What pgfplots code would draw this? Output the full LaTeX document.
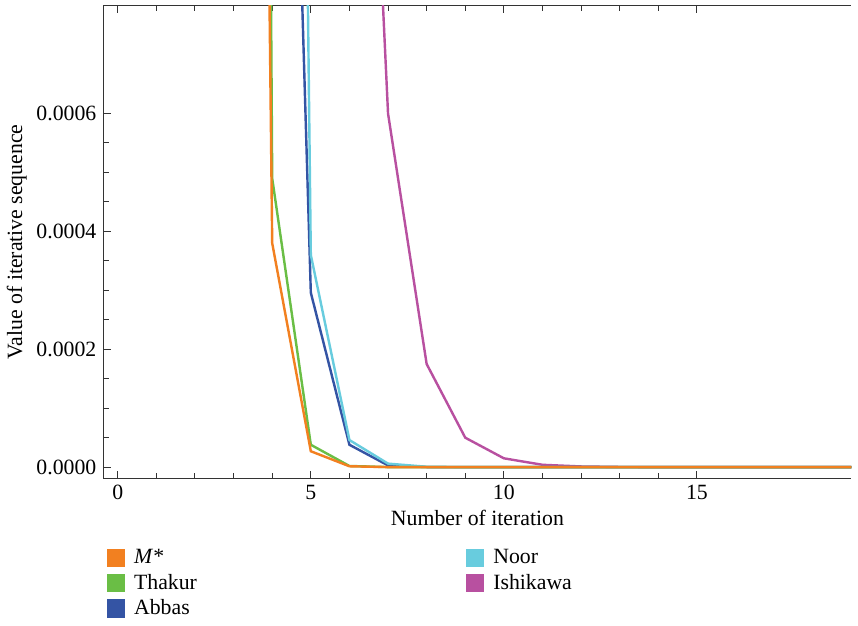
\documentclass[border=0pt]{standalone}
\usepackage{fontspec}
\setmainfont{Liberation Serif}
\usepackage{pgfplots}
\pgfplotsset{compat=1.18}

\definecolor{cMstar}{RGB}{242,128,32}
\definecolor{cThakur}{RGB}{106,190,69}
\definecolor{cAbbas}{RGB}{52,84,164}
\definecolor{cNoor}{RGB}{104,204,222}
\definecolor{cIshi}{RGB}{184,80,160}

\begin{document}
\begin{tikzpicture}
\begin{axis}[
    name=ax,
    scale only axis,
    width=371pt,
    height=234.5pt,
    xmin=-0.37, xmax=19,
    ymin=-0.000019, ymax=0.000783,
    axis x line*=box,
    axis y line*=left,
    axis line style={-, color=black!80, line width=0.6pt},
    every outer x axis line/.append style={-},
    every outer y axis line/.append style={-},
    xtick pos=both,
    ytick pos=left,
    tick align=inside,
    xtick={0,5,10,15},
    minor x tick num=4,
    ytick={0,0.0002,0.0004,0.0006},
    minor y tick num=3,
    major tick length=3.5pt,
    minor tick length=2.5pt,
    tick style={color=black!80, line width=0.5pt},
    scaled y ticks=false,
    yticklabel style={/pgf/number format/.cd, fixed, fixed zerofill, precision=4},
    /pgf/number format/assume math mode=true,
    xlabel={Number of iteration},
    ylabel={Value of iterative sequence},
    label style={font=\fontsize{10.8}{13}\selectfont},
    ticklabel style={font=\fontsize{10.8}{13}\selectfont},
    xlabel style={yshift=2pt},
    ylabel style={yshift=-2pt},
    legend style={at={(axis description cs:0,0)}, anchor=north west,
        yshift=-31pt, xshift=-1pt, draw=none, fill=none,
        font=\fontsize{10.8}{13}\selectfont, row sep=-0.3pt,
        /tikz/every odd column/.append style={column sep=3pt},
        /tikz/every even column/.append style={column sep=132pt}},
    legend columns=2,
    legend cell align=left,
    every axis plot/.append style={line width=1.2pt},
]
% legend (order gives M*, Thakur, Abbas in the first column; Noor, Ishikawa in the second)
\addlegendimage{only marks, mark=square*, mark size=4pt, color=cMstar}
\addlegendentry{\textit{M}*}
\addlegendimage{only marks, mark=square*, mark size=4pt, color=cNoor}
\addlegendentry{Noor}
\addlegendimage{only marks, mark=square*, mark size=4pt, color=cThakur}
\addlegendentry{Thakur}
\addlegendimage{only marks, mark=square*, mark size=4pt, color=cIshi}
\addlegendentry{Ishikawa}
\addlegendimage{only marks, mark=square*, mark size=4pt, color=cAbbas}
\addlegendentry{Abbas}

% Ishikawa
\addplot[cIshi, forget plot] coordinates {
    (6,0.002) (7,0.0006) (8,0.000175) (9,0.00005)
    (10,0.000015) (11,0.000004) (12,0.0000012) (13,0.0000003) (14,0.0000001)
    (15,0) (16,0) (17,0) (18,0) (19,0)};
% Abbas
\addplot[cAbbas, forget plot] coordinates {
    (4,0.0025) (5,0.000296) (6,0.000038) (7,0.000003) (8,0.0000002)
    (9,0) (10,0) (11,0) (12,0) (13,0) (14,0) (15,0) (16,0) (17,0) (18,0) (19,0)};
% Noor
\addplot[cNoor, forget plot] coordinates {
    (4,0.006) (5,0.00036) (6,0.000046) (7,0.000006) (8,0.0000007)
    (9,0) (10,0) (11,0) (12,0) (13,0) (14,0) (15,0) (16,0) (17,0) (18,0) (19,0)};
% Thakur
\addplot[cThakur, forget plot] coordinates {
    (3,0.0103) (4,0.00049) (5,0.000038) (6,0.000002) (7,0.00000015)
    (8,0) (9,0) (10,0) (11,0) (12,0) (13,0) (14,0) (15,0) (16,0) (17,0) (18,0) (19,0)};
% M*
\addplot[cMstar, forget plot] coordinates {
    (3,0.0062) (4,0.00038) (5,0.000027) (6,0.0000015) (7,0.0000001)
    (8,0) (9,0) (10,0) (11,0) (12,0) (13,0) (14,0) (15,0) (16,0) (17,0) (18,0) (19,0)};
\end{axis}
% margin above and right of the frame, as in the reference
\path (ax.outer north east) ++(3pt,2.5pt);
\end{tikzpicture}
\end{document}
